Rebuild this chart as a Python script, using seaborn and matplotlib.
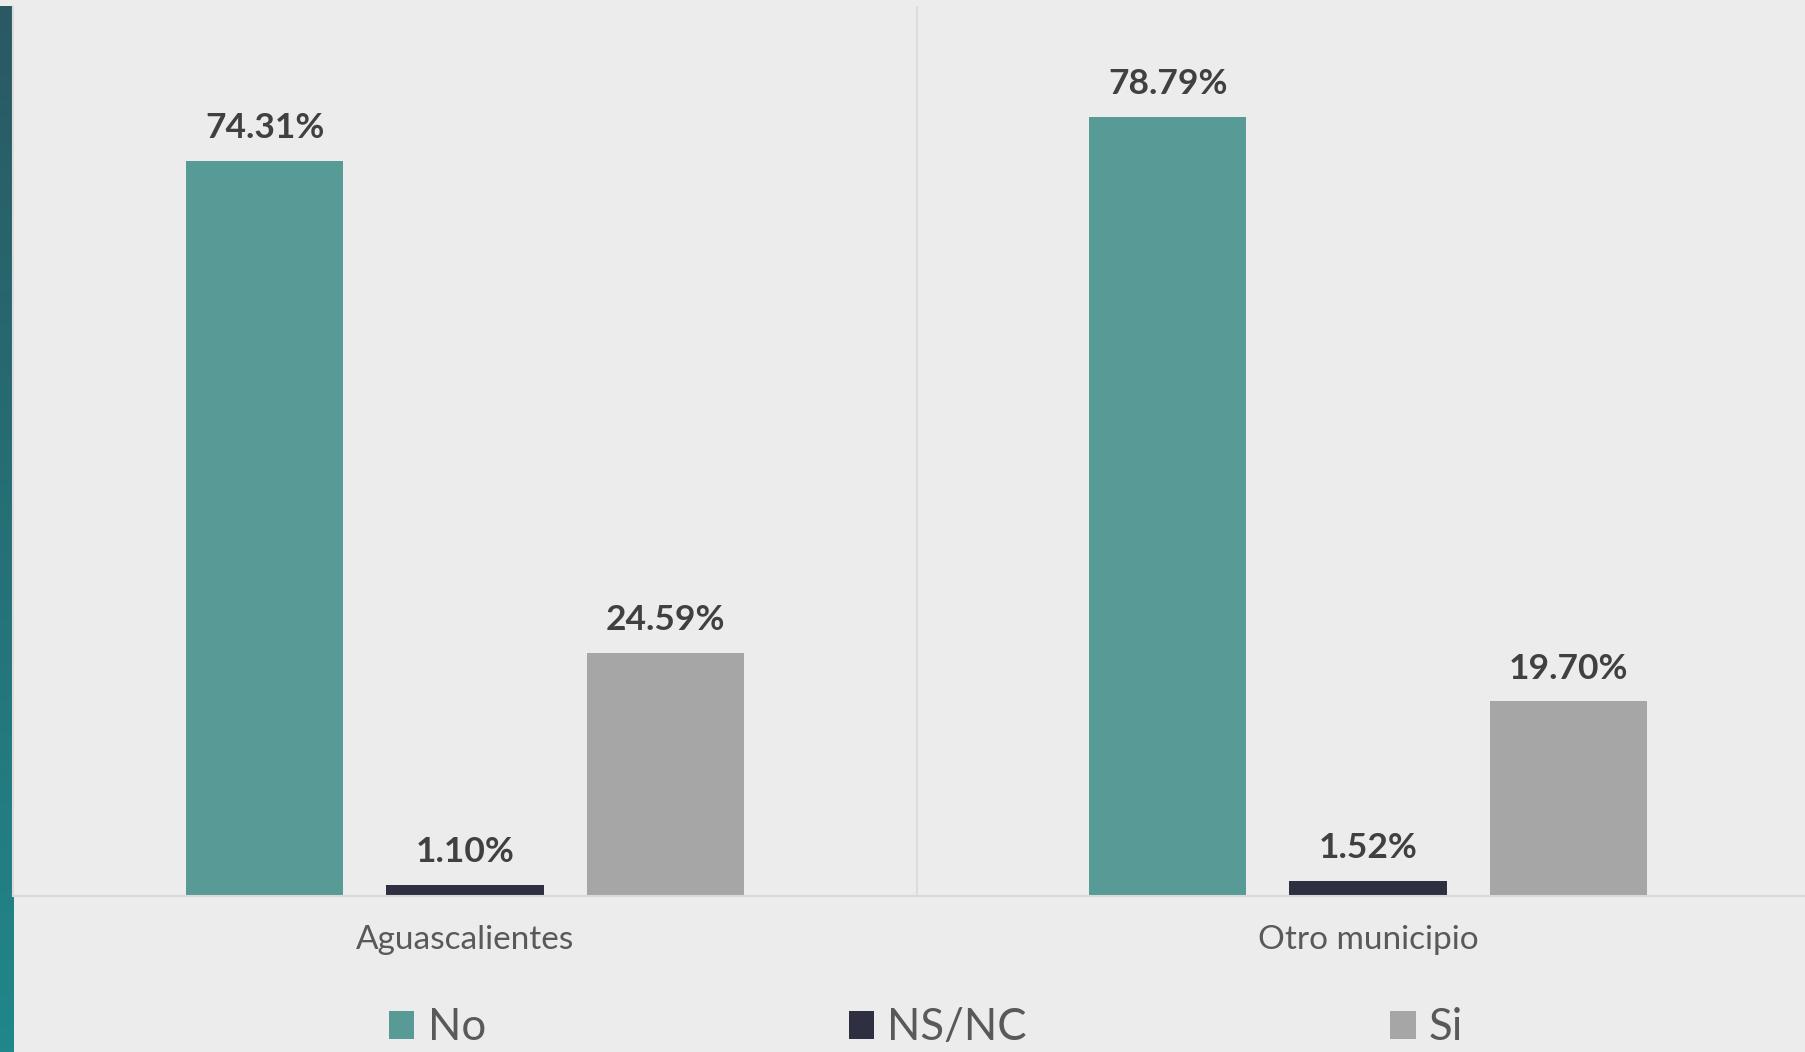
import numpy as np
import pandas as pd
import matplotlib
matplotlib.use('Agg')
import matplotlib.pyplot as plt
import seaborn as sns
from matplotlib.patches import Patch

# Data
municipios = ['Aguascalientes', 'Otro municipio']
respuestas = ['No', 'NS/NC', 'Si']
valoresNo = [74.31, 78.79]
valoresNsnc = [1.10, 1.52]
valoresSi = [24.59, 19.70]
colores = ['#589b96', '#2e2f40', '#a6a6a6']

rows = []
for i, mun in enumerate(municipios):
    for resp, vals in zip(respuestas, [valoresNo, valoresNsnc, valoresSi]):
        rows.append({'Municipio': mun, 'Respuesta': resp, 'Porcentaje': vals[i]})
dataFrame = pd.DataFrame(rows)

# Style
sns.set_style('white')
plt.rcParams['font.family'] = ['Lato', 'DejaVu Sans']
bgColor = '#ececec'

fig = plt.figure(figsize=(18.06, 10.52), dpi=100, facecolor=bgColor)

# Left gradient strip
stripAx = fig.add_axes([0, 0, 14 / 1806, 1 - 6 / 1052])
gradient = np.linspace(0, 1, 256).reshape(-1, 1)
stripCmap = matplotlib.colors.LinearSegmentedColormap.from_list('strip', ['#2b5963', '#20878a'])
stripAx.imshow(gradient, aspect='auto', cmap=stripCmap, extent=[0, 1, 1, 0])
stripAx.set_axis_off()

ax = fig.add_axes([13.5 / 1806, 1 - 896 / 1052, 1.0, 890 / 1052])
ax.set_facecolor(bgColor)
sns.barplot(data=dataFrame, x='Municipio', y='Porcentaje', hue='Respuesta',
            hue_order=respuestas, palette=colores, width=0.665, gap=0.214,
            saturation=1, ax=ax, legend=False, edgecolor='none', linewidth=0)

for container in ax.containers:
    ax.bar_label(container, labels=[f'{v:.2f}%' for v in container.datavalues],
                 padding=12, fontsize=25.5, fontweight='bold', color='#404040')

ax.set_ylim(0, 90)
ax.set_xlim(-0.5, 1.5)
ax.axvline(0.5, color='#d9d9d9', lw=1.2, zorder=0)
ax.set_xlabel('')
ax.set_ylabel('')
ax.set_yticks([])
ax.tick_params(axis='x', length=0, pad=21, labelsize=24, labelcolor='#595959')
for side in ['top', 'right']:
    ax.spines[side].set_visible(False)
ax.spines['left'].set_color('#dcdcdc')
ax.spines['left'].set_linewidth(1.5)
ax.spines['bottom'].set_color('#d9d9d9')
ax.spines['bottom'].set_linewidth(1.5)

# Legend (kept just inside the bottom edge)
handles = [Patch(facecolor=c, edgecolor='none') for c in colores]
fig.legend(handles, respuestas, loc='center', bbox_to_anchor=(926 / 1806, 24 / 1052),
           ncol=3, frameon=False, fontsize=31.5, labelcolor='#595959',
           handlelength=0.58, handleheight=0.58, handletextpad=0.3,
           columnspacing=8.3, borderpad=0)

fig.savefig('out.png', dpi=100, facecolor=bgColor)
